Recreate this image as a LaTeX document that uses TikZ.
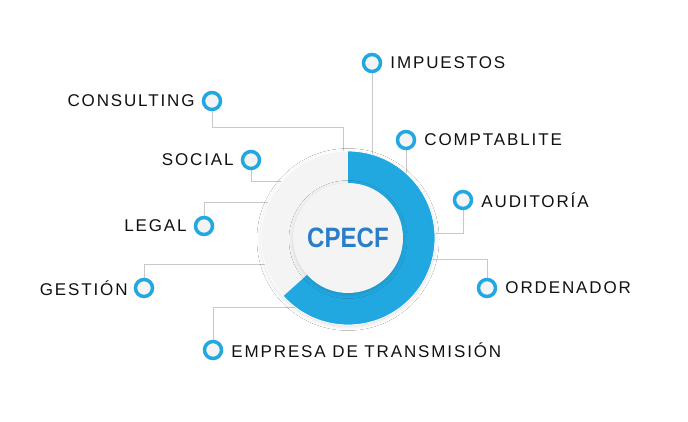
\documentclass[tikz,border=0pt]{standalone}
\usepackage{fontspec}
\setmainfont{Liberation Sans}
\newfontfamily\tagfont[LetterSpace=11]{Liberation Sans}
\newfontfamily\hubfont[FakeStretch=0.86]{Liberation Sans}
\usepackage{tikz}
\usetikzlibrary{backgrounds,positioning,shadows.blur}
\definecolor{cpblue}{HTML}{22A8E0}
\definecolor{cptext}{HTML}{2A7EC7}
\definecolor{cpgray}{HTML}{F4F4F4}
\definecolor{cpline}{HTML}{C8C8C8}
\definecolor{cpink}{HTML}{111111}
\tikzset{
  dot/.style={circle,draw=cpblue,line width=3.5pt,fill=cpgray,minimum size=17pt,inner sep=0pt},
  tag/.style={font=\tagfont\fontsize{17}{20}\selectfont,text=cpink,inner sep=0pt},
  link/.style={draw=cpline,line width=0.9pt},
  hub/.style={circle,fill=cpgray,inner sep=0pt},
  soft/.style={blur shadow={shadow xshift=0pt,shadow yshift=-1.5pt,shadow blur radius=4pt,
    shadow blur steps=16,shadow opacity=14}}
}

\begin{document}
\begin{tikzpicture}[x=1pt,y=1pt]
  \useasboundingbox (0,0) rectangle (688,421);
  % ring
  \node[hub,soft,minimum size=174pt] (core) at (348,183) {};
  \fill[cpblue] (core.center) -- ++(90:87) arc[start angle=90,end angle=-138,radius=87] -- cycle;
  \draw[white,line width=0.8pt] (core.center) circle[radius=87];
  \node[hub,soft,minimum size=110pt,font=\hubfont\bfseries\fontsize{28}{30}\selectfont,text=cptext] (hubname) at (core) {CPECF};
  % bullets
  \node[dot] (b-imp) at (372,358) {};
  \node[dot] (b-comp) at (406,281) {};
  \node[dot] (b-aud) at (463,221) {};
  \node[dot] (b-ord) at (487,133) {};
  \node[dot] (b-cons) at (212,320) {};
  \node[dot] (b-soc) at (251,261) {};
  \node[dot] (b-leg) at (204,195) {};
  \node[dot] (b-ges) at (144,133) {};
  \node[dot] (b-emp) at (213,71) {};
  % labels
  \node[tag,right=8pt of b-imp] (t-imp) {IMPUESTOS};
  \node[tag,right=8pt of b-comp] (t-comp) {COMPTABLITE};
  \node[tag,right=8pt of b-aud] (t-aud) {AUDITORÍA};
  \node[tag,right=8pt of b-ord] (t-ord) {ORDENADOR};
  \node[tag,left=7pt of b-cons] (t-cons) {CONSULTING};
  \node[tag,left=7pt of b-soc] (t-soc) {SOCIAL};
  \node[tag,left=7pt of b-leg] (t-leg) {LEGAL};
  \node[tag,left=6pt of b-ges] (t-ges) {GESTIÓN};
  \node[tag,right=8pt of b-emp] (t-emp) {EMPRESA DE TRANSMISIÓN};
  % elbows
  \coordinate (e-aud) at (348,188);
  \coordinate (e-ord) at (348,162);
  \coordinate (e-cons) at (343,294);
  \coordinate (e-soc) at (348,240);
  \coordinate (e-leg) at (348,219);
  \coordinate (e-ges) at (348,157);
  \coordinate (e-emp) at (348,114);
  \begin{scope}[on background layer]
    \fill[white] (0,0) rectangle (688,421);
    \draw[link] (b-imp) -- (b-imp |- core);
    \draw[link] (b-comp) -- (b-comp |- core);
    \draw[link] (b-aud) |- (e-aud);
    \draw[link] (b-ord) |- (e-ord);
    \draw[link] (b-cons) |- (e-cons) -- (e-cons |- core);
    \draw[link] (b-soc) |- (e-soc);
    \draw[link] (b-leg) |- (e-leg);
    \draw[link] (b-ges) |- (e-ges);
    \draw[link] (b-emp) |- (e-emp);
  \end{scope}
\end{tikzpicture}
\end{document}
